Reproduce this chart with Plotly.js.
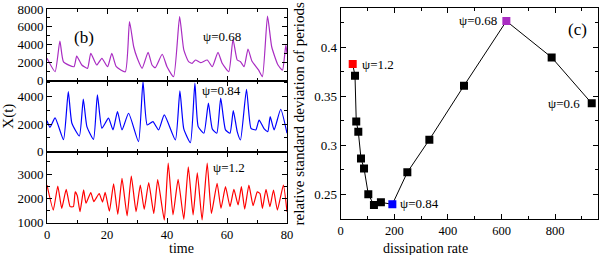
<!DOCTYPE html>
<html>
<head>
<meta charset="utf-8">
<script src="https://cdn.plot.ly/plotly-3.0.1.min.js"></script>
<style>html,body{margin:0;padding:0;background:#fff;}#chart{width:599px;height:255px;}</style>
</head>
<body>
<div id="chart"></div>
<script>
// psi = 0.68 time series (top panel)
const tA = [0, 2.7, 4.3, 5.5, 9, 9.9, 11.6, 13.5, 14.6, 16.6, 18.3, 20.2, 21.6, 23.1, 26.1, 27.5, 28.9, 30.1, 31.7, 33.7, 35.0, 36.1, 38.4, 40, 42.2, 44.2, 45.6, 47.2, 48.4, 49.5, 51.2, 53.4, 55.1, 57, 58.4, 60.6, 62, 63.4, 64.5, 65.7, 67, 68.3, 70.5, 71.8, 73.5, 74.9, 77, 78.5, 79.6, 80];
const xA = [2500, 1000, 4430, 2100, 1560, 2750, 1750, 1380, 3050, 1750, 2500, 1560, 3050, 1560, 1000, 6590, 3790, 2500, 1380, 3170, 1750, 1450, 2950, 1560, 450, 7140, 3430, 2120, 1940, 2310, 2010, 2310, 1560, 3170, 1940, 1000, 4620, 2310, 2120, 1560, 3540, 2200, 1200, 450, 7220, 3790, 1750, 1190, 3980, 3050];

// psi = 0.84 time series (middle panel)
const tB = [0, 1, 2.7, 5.5, 7.1, 8.3, 10.8, 12.1, 13.3, 15.5, 16.8, 18.3, 20.5, 22, 23.5, 25, 27.2, 30.5, 32, 33.4, 35.3, 37.2, 39.1, 42.8, 44.3, 45.6, 47.8, 49.3, 50.4, 52.3, 53.8, 55.1, 56.6, 57.9, 59.5, 61, 62.1, 63.4, 64.5, 66.5, 68, 69.6, 70.7, 72.4, 73.6, 74.4, 75.7, 77.9, 80];
const xB = [2250, 1770, 2450, 870, 4360, 2060, 1140, 3810, 1820, 900, 4120, 1700, 2430, 1580, 2910, 1580, 2790, 730, 5090, 1940, 2180, 1580, 2670, 850, 4410, 1650, 650, 4970, 1820, 1340, 3520, 1650, 1340, 3880, 1580, 1340, 2980, 1460, 850, 4530, 1700, 1580, 2300, 1650, 1460, 2540, 1580, 3080, 1340];

// psi = 1.2 time series (bottom panel)
const tC = [0, 2.1, 3.6, 4.9, 6.4, 7.7, 8.8, 9.4, 10.1, 11, 12.2, 13, 14.6, 15.6, 17.4, 18.5, 19.4, 20.8, 22.2, 23.6, 25, 26.7, 28.1, 29.7, 31.1, 32.4, 33.9, 35.6, 36.9, 39.1, 40.4, 42, 43.7, 45.6, 47.1, 48.7, 50.1, 51.7, 53.4, 54.8, 56.7, 58, 59.5, 61, 62.3, 63.7, 64.8, 65.9, 67.3, 68.7, 70.1, 71, 71.8, 73, 74.3, 75.5, 76.8, 78.8, 80];
const xC = [2550, 1520, 2510, 1590, 2370, 1660, 1660, 2270, 2110, 1450, 2350, 1800, 2240, 1870, 2200, 1850, 2250, 1470, 2600, 1350, 2820, 1280, 2920, 1450, 2550, 1550, 2650, 1380, 2770, 1110, 3450, 1320, 2780, 1140, 3300, 1320, 3050, 1110, 3450, 1380, 2620, 1590, 2480, 1660, 2370, 1730, 2480, 1560, 2550, 1700, 2270, 2200, 1590, 2370, 1660, 2340, 1520, 2550, 1450];

// panel (c): dissipation rate vs relative std of periods
const dissRate = [44.8, 53.4, 58, 65.7, 75.7, 87, 103, 124, 150, 192.7, 248.6, 330.7, 460, 618, 787, 936.5];
const relStd   = [0.383, 0.371, 0.3245, 0.314, 0.2867, 0.2765, 0.250, 0.2392, 0.2418, 0.2398, 0.2725, 0.3058, 0.361, 0.4269, 0.3898, 0.3429];
const markerColors = ['#ff0000','#000000','#000000','#000000','#000000','#000000','#000000','#000000','#000000','#0000ff','#000000','#000000','#000000','#a92cc2','#000000','#000000'];

const FONT = '"Liberation Serif", "Times New Roman", serif';

const traces = [
  {x: tC, y: xC, xaxis: 'x', yaxis: 'y', type: 'scatter', mode: 'lines',
   line: {color: '#ff0000', width: 1.2, shape: 'spline', smoothing: 0.45}, hoverinfo: 'skip'},
  {x: tB, y: xB, xaxis: 'x2', yaxis: 'y2', type: 'scatter', mode: 'lines',
   line: {color: '#0000ff', width: 1.2, shape: 'spline', smoothing: 0.5}, hoverinfo: 'skip'},
  {x: tA, y: xA, xaxis: 'x3', yaxis: 'y3', type: 'scatter', mode: 'lines',
   line: {color: '#a92cc2', width: 1.2, shape: 'spline', smoothing: 0.5}, hoverinfo: 'skip'},
  {x: dissRate, y: relStd, xaxis: 'x4', yaxis: 'y4', type: 'scatter', mode: 'lines+markers',
   line: {color: '#000000', width: 1},
   marker: {symbol: 'square', size: 8, color: markerColors, line: {width: 0}}, hoverinfo: 'skip'}
];

const tickFont = {family: FONT, size: 13, color: '#000'};
const xTickFont = {family: FONT, size: 12.5, color: '#000'};
function ax(extra) {
  return Object.assign({
    showline: true, linecolor: '#000', linewidth: 1, mirror: 'ticks',
    ticks: 'inside', ticklen: 5, tickwidth: 1, tickcolor: '#000',
    showgrid: false, zeroline: false, tickfont: tickFont, fixedrange: true
  }, extra);
}

const LX = [47/599, 287/599];
const layout = {
  width: 599, height: 255, autosize: false,
  margin: {l: 0, r: 0, t: 0, b: 0},
  paper_bgcolor: '#fff', plot_bgcolor: '#fff',
  showlegend: false,
  font: {family: FONT, color: '#000'},
  xaxis: ax({domain: LX, anchor: 'y', range: [0, 80], dtick: 20, tick0: 0, tickfont: xTickFont,
    minor: {dtick: 10, ticks: 'inside', ticklen: 3, tickcolor: '#000'}}),
  xaxis2: ax({domain: LX, anchor: 'y2', range: [0, 80], dtick: 20, showticklabels: false,
    minor: {dtick: 10, ticks: 'inside', ticklen: 3, tickcolor: '#000'}}),
  xaxis3: ax({domain: LX, anchor: 'y3', range: [0, 80], dtick: 20, showticklabels: false,
    minor: {dtick: 10, ticks: 'inside', ticklen: 3, tickcolor: '#000'}}),
  yaxis: ax({domain: [0.1267, 0.4051], anchor: 'x', range: [1000, 3920], dtick: 1000, tick0: 0,
    minor: {dtick: 500, ticks: 'inside', ticklen: 3, tickcolor: '#000'}}),
  yaxis2: ax({domain: [0.4051, 0.6835], anchor: 'x2', range: [0, 5150], dtick: 2000, tick0: 0,
    minor: {dtick: 1000, ticks: 'inside', ticklen: 3, tickcolor: '#000'},
    title: {text: 'X(t)', font: {family: FONT, size: 15}, standoff: 4}}),
  yaxis3: ax({domain: [0.6835, 0.9647], anchor: 'x3', range: [0, 8000], dtick: 2000, tick0: 0,
    minor: {dtick: 1000, ticks: 'inside', ticklen: 3, tickcolor: '#000'}}),
  xaxis4: ax({domain: [340.7/599, 598.3/599], anchor: 'y4', range: [0, 961], dtick: 200, tick0: 0, tickfont: xTickFont,
    minor: {dtick: 100, ticks: 'inside', ticklen: 3, tickcolor: '#000'}}),
  yaxis4: ax({domain: [0.1400, 0.9675], anchor: 'x4', range: [0.2245, 0.440], dtick: 0.05, tick0: 0,
    minor: {dtick: 0.025, ticks: 'inside', ticklen: 3, tickcolor: '#000'},
    title: {text: 'relative standard deviation of periods', font: {family: FONT, size: 15}, standoff: 6}}),
  annotations: [
    {xref: 'paper', yref: 'paper', x: 167/599, y: 0, yanchor: 'bottom', yshift: -3, text: 'time', showarrow: false,
     font: {family: FONT, size: 14}},
    {xref: 'paper', yref: 'paper', x: 470/599, y: 0, yanchor: 'bottom', yshift: -3, text: 'dissipation rate', showarrow: false,
     font: {family: FONT, size: 14}},
    {xref: 'paper', yref: 'paper', x: 0.1202, y: 0.898, text: '(b)', showarrow: false,
     font: {family: FONT, size: 17}},
    {xref: 'paper', yref: 'paper', x: 0.3706, y: 0.894, text: 'ψ=0.68', showarrow: false,
     font: {family: FONT, size: 13}},
    {xref: 'paper', yref: 'paper', x: 0.369, y: 0.647, text: 'ψ=0.84', showarrow: false,
     font: {family: FONT, size: 13}},
    {xref: 'paper', yref: 'paper', x: 0.382, y: 0.345, text: 'ψ=1.2', showarrow: false,
     font: {family: FONT, size: 13}},
    {xref: 'x4', yref: 'y4', x: 882, y: 0.418, text: '(c)', showarrow: false,
     font: {family: FONT, size: 17}},
    {xref: 'x4', yref: 'y4', x: 72, y: 0.383, xanchor: 'left', text: 'ψ=1.2', showarrow: false,
     font: {family: FONT, size: 13}},
    {xref: 'x4', yref: 'y4', x: 214, y: 0.2405, xanchor: 'left', text: 'ψ=0.84', showarrow: false,
     font: {family: FONT, size: 13}},
    {xref: 'x4', yref: 'y4', x: 591, y: 0.4272, xanchor: 'right', text: 'ψ=0.68', showarrow: false,
     font: {family: FONT, size: 13}},
    {xref: 'x4', yref: 'y4', x: 900, y: 0.3426, xanchor: 'right', text: 'ψ=0.6', showarrow: false,
     font: {family: FONT, size: 13}}
  ]
};

Plotly.newPlot('chart', traces, layout, {staticPlot: true, displayModeBar: false});
</script>
</body>
</html>
